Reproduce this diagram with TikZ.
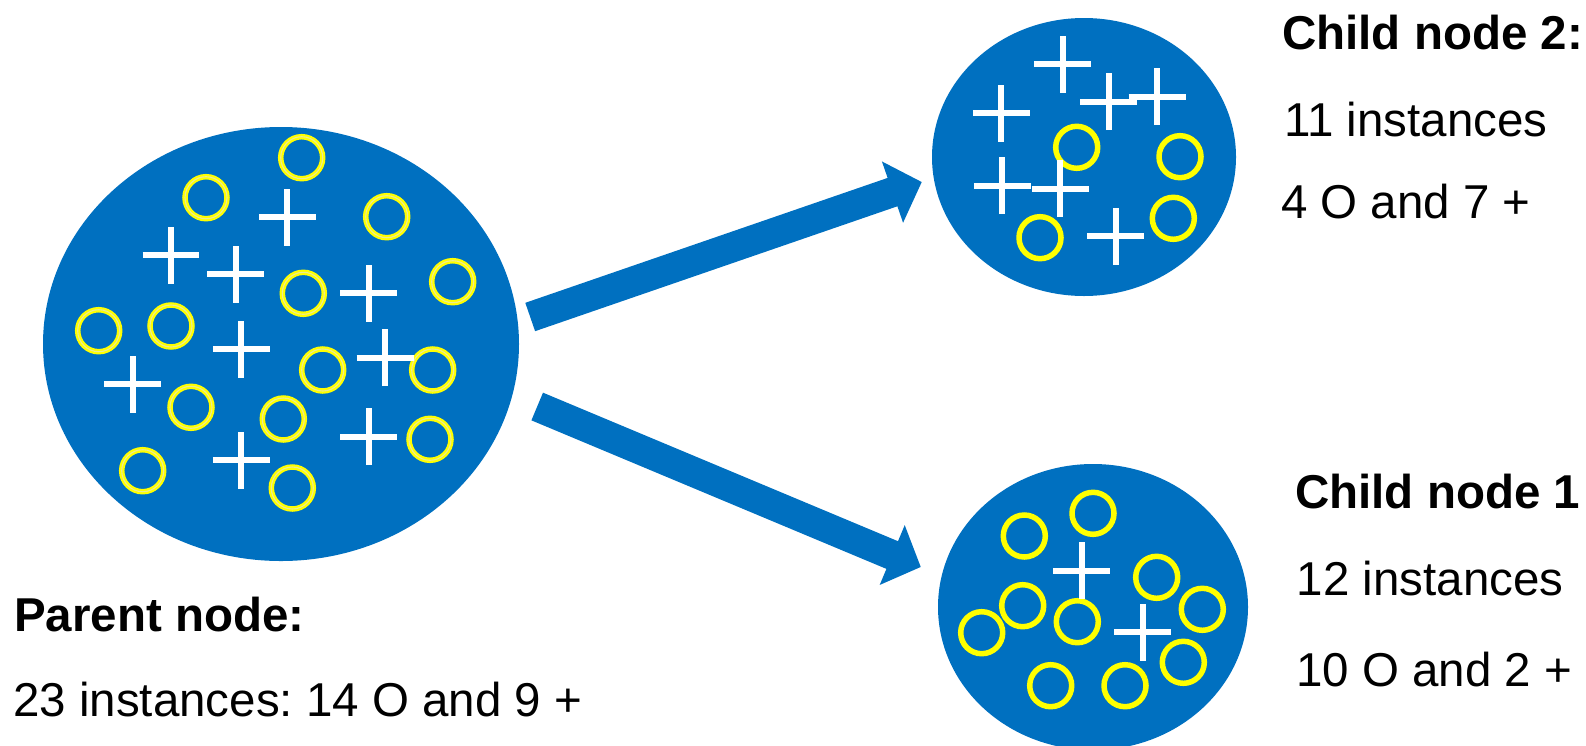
\documentclass[tikz,border=0pt]{standalone}
\usepackage{fontspec}
\setmainfont{Liberation Sans}
\usepackage{tikz}
\usetikzlibrary{shapes.geometric, shapes.misc, arrows.meta, positioning}
\definecolor{myblue}{RGB}{0,112,192}
\definecolor{myyellow}{RGB}{255,255,0}
\definecolor{mypale}{RGB}{235,235,150}
\frenchspacing

\begin{document}
\begin{tikzpicture}[
    x=1pt, y=-1pt,
    blob/.style={ellipse, fill=myblue, inner sep=0pt},
    oring/.style={circle, draw=myyellow, line width=5.5pt, minimum size=42pt, inner sep=0pt},
    oringdbl/.style={oring, line width=2.2pt, double=mypale, double distance=1.1pt},
    plusmark/.style={cross out, draw=white, line width=6.3pt, minimum size=34pt, inner sep=0pt, rotate=45},
    bigarrow/.style={-{Triangle[length=31pt, width=63pt]}, line width=30pt, draw=myblue},
    heading/.style={anchor=base west, inner sep=0pt, font=\fontsize{47.5}{57}\selectfont\bfseries},
    info/.style={anchor=base west, inner sep=0pt, font=\fontsize{47.5}{57}\selectfont}
]
\useasboundingbox (0,0) rectangle (1586,745);

% the three nodes of the tree
\node[blob, minimum width=476pt, minimum height=434pt] (parent) at (281,344) {};
\node[blob, minimum width=304pt, minimum height=278pt] (child2) at (1084,157) {};
\node[blob, minimum width=310pt, minimum height=286pt] (child1) at (1093,607) {};

% instances in the parent node
\foreach \x/\y [count=\i] in {301.7/157.7, 206/197.7, 386.7/216.7, 452.7/281.7, 303.3/293.3,
    98.7/330.7, 171/326, 322.7/370, 432.7/370, 191/407.3, 283.3/419, 430/439.3, 142.7/470.7, 292.3/488}
    \node[oringdbl] (po\i) at (\x,\y) {};
\foreach \x/\y [count=\i] in {287.3/217.3, 171/255, 235.7/274, 368.7/293.3, 241.3/349.3,
    385/357.7, 132.7/384.3, 368.7/436.7, 241.3/460}
    \node[plusmark] (pp\i) at (\x,\y) {};

% instances in child node 2
\foreach \x/\y [count=\i] in {1076.7/147.3, 1180/156.7, 1173.3/218.3, 1040/237.7}
    \node[oring] (bo\i) at (\x,\y) {};
\foreach \x/\y [count=\i] in {1062.7/64, 1001.3/113.3, 1108.7/101.7, 1157/96.7,
    1002.3/185.7, 1060.3/188.7, 1115.7/236}
    \node[plusmark] (bp\i) at (\x,\y) {};

% instances in child node 1
\foreach \x/\y [count=\i] in {1093/513.3, 1024.3/536, 1156.7/577.3, 1022.7/605.7, 1202.3/609.3,
    981.7/632.7, 1077.3/621.7, 1183.3/662.3, 1050.7/685.7, 1125/685.7}
    \node[oring] (ao\i) at (\x,\y) {};
\foreach \x/\y [count=\i] in {1081.7/570.7, 1142.7/632.3}
    \node[plusmark] (ap\i) at (\x,\y) {};

% split arrows
\draw[bigarrow] ([shift={(11,-27)}]parent.east) -- ([shift={(-10,25)}]child2.west);
\draw[bigarrow] ([shift={(18,62.5)}]parent.east) -- ([shift={(-17,-40)}]child1.west);

% labels
\node[heading] (ptitle) at (14,631) {Parent node:};
\node[info] (pinfo) at (13,716.7) {23 instances: 14 O and 9 +};
\node[heading] (btitle) at (1282,49.3) {Child node 2:};
\node[info] (binfo) at (1284,136.7) {11 instances};
\node[info] (bcount) at (1281,218.3) {4 O and 7 +};
\node[heading] (atitle) at (1295,508.3) {Child node 1};
\node[info] (ainfo) at (1296.7,595) {12 instances};
\node[info] (acount) at (1296,686.7) {10 O and 2 +};
\end{tikzpicture}
\end{document}
